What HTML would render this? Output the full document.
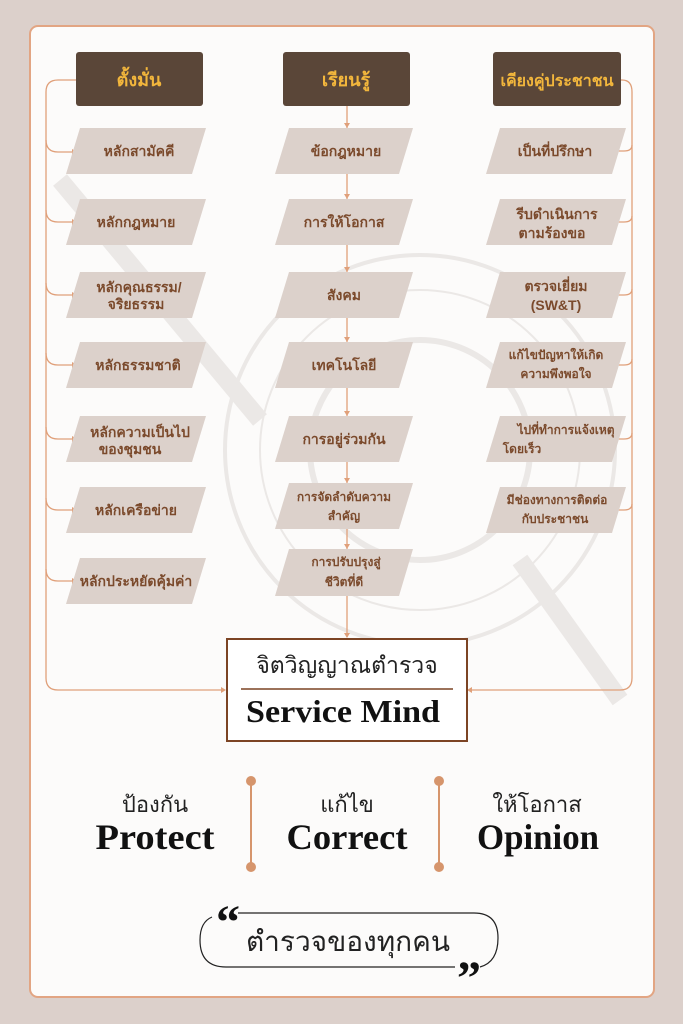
<!DOCTYPE html>
<html><head><meta charset="utf-8"><style>
body{margin:0;width:683px;height:1024px;background:#dcd0cb;overflow:hidden}
svg{display:block}
.t{font-family:"Liberation Sans","DejaVu Sans",sans-serif;font-size:14px;fill:#7b4a2c;text-anchor:middle;font-weight:bold}
.h{font-family:"Liberation Sans","DejaVu Sans",sans-serif;font-size:18px;fill:#f2b63c;text-anchor:middle;font-weight:bold}
.s{font-family:"Liberation Serif",serif;font-weight:bold;fill:#111;text-anchor:middle}
.th{font-family:"Liberation Sans","DejaVu Sans",sans-serif;fill:#222;text-anchor:middle}
</style></head><body>
<svg width="683" height="1024" viewBox="0 0 683 1024">
<rect x="30" y="26" width="624" height="971" rx="8" fill="#fcfbfa" stroke="#e2a583" stroke-width="2"/>
<!-- faint emblem -->
<g fill="none" stroke="#ebe8e6" stroke-width="4">
<circle cx="420" cy="450" r="195"/>
<circle cx="420" cy="450" r="160" stroke-width="2"/>
<circle cx="420" cy="450" r="110" stroke-width="6"/>
<path d="M60 180 L260 420" stroke-width="18"/>
<path d="M520 560 L620 700" stroke-width="18"/>
</g>
<!-- headers -->
<g fill="#5a4638">
<rect x="76" y="52" width="127" height="54" rx="3"/>
<rect x="283" y="52" width="127" height="54" rx="3"/>
<rect x="493" y="52" width="128" height="54" rx="3"/>
</g>
<text class="h" x="139" y="86">ตั้งมั่น</text>
<text class="h" x="346" y="86">เรียนรู้</text>
<text class="h" x="557" y="86" style="font-size:16px">เคียงคู่ประชาชน</text>
<!-- connectors -->
<g fill="none" stroke="#e0a07a" stroke-width="1.3">
<path d="M76 80 H58 Q46 80 46 92 V678 Q46 690 58 690 H222"/>
<path d="M46 140 Q46 152 58 152 H72"/>
<path d="M46 210 Q46 222 58 222 H72"/>
<path d="M46 283 Q46 295 58 295 H72"/>
<path d="M46 353 Q46 365 58 365 H72"/>
<path d="M46 427 Q46 439 58 439 H72"/>
<path d="M46 498 Q46 510 58 510 H72"/>
<path d="M46 569 Q46 581 58 581 H72"/>
<path d="M621 80 H622 Q632 80 632 92 V678 Q632 690 620 690 H470"/>
<path d="M632 145 Q632 151 624 151 H618"/>
<path d="M632 216 Q632 222 624 222 H614"/>
<path d="M632 289 Q632 295 624 295 H614"/>
<path d="M632 359 Q632 365 624 365 H614"/>
<path d="M632 433 Q632 439 624 439 H614"/>
<path d="M632 504 Q632 510 624 510 H614"/>
<path d="M347 106 V637"/>
</g>
<g fill="#e0a07a">
<path d="M72 149 l5 3 l-5 3z"/><path d="M72 219 l5 3 l-5 3z"/><path d="M72 292 l5 3 l-5 3z"/>
<path d="M72 362 l5 3 l-5 3z"/><path d="M72 436 l5 3 l-5 3z"/><path d="M72 507 l5 3 l-5 3z"/>
<path d="M72 578 l5 3 l-5 3z"/><path d="M221 687 l5 3 l-5 3z"/><path d="M472 687 l-5 3 l5 3z"/>
<path d="M344 123 l3 5 l3 -5z"/><path d="M344 194 l3 5 l3 -5z"/><path d="M344 267 l3 5 l3 -5z"/>
<path d="M344 337 l3 5 l3 -5z"/><path d="M344 411 l3 5 l3 -5z"/><path d="M344 478 l3 5 l3 -5z"/>
<path d="M344 544 l3 5 l3 -5z"/><path d="M344 633 l3 5 l3 -5z"/>
</g>
<!-- parallelograms -->
<g fill="#dcd1cb">
<path d="M80 128 H206 L192 174 H66Z"/><path d="M80 199 H206 L192 245 H66Z"/><path d="M80 272 H206 L192 318 H66Z"/>
<path d="M80 342 H206 L192 388 H66Z"/><path d="M80 416 H206 L192 462 H66Z"/><path d="M80 487 H206 L192 533 H66Z"/>
<path d="M80 558 H206 L192 604 H66Z"/>
<path d="M289 128 H413 L399 174 H275Z"/><path d="M289 199 H413 L399 245 H275Z"/><path d="M289 272 H413 L399 318 H275Z"/>
<path d="M289 342 H413 L399 388 H275Z"/><path d="M289 416 H413 L399 462 H275Z"/><path d="M289 483 H413 L399 529 H275Z"/>
<path d="M289 549 H413 L399 596 H275Z"/>
<path d="M500 128 H626 L612 174 H486Z"/><path d="M500 199 H626 L612 245 H486Z"/><path d="M500 272 H626 L612 318 H486Z"/>
<path d="M500 342 H626 L612 388 H486Z"/><path d="M500 416 H626 L612 462 H486Z"/><path d="M500 487 H626 L612 533 H486Z"/>
</g>
<text class="t" x="139" y="156">หลักสามัคคี</text>
<text class="t" x="136" y="227">หลักกฎหมาย</text>
<text class="t" x="139" y="292">หลักคุณธรรม/</text><text class="t" x="136" y="309">จริยธรรม</text>
<text class="t" x="138" y="370">หลักธรรมชาติ</text>
<text class="t" x="140" y="437">หลักความเป็นไป</text><text class="t" x="130" y="454">ของชุมชน</text>
<text class="t" x="136" y="515">หลักเครือข่าย</text>
<text class="t" x="136" y="586">หลักประหยัดคุ้มค่า</text>
<text class="t" x="346" y="156">ข้อกฎหมาย</text>
<text class="t" x="344" y="227">การให้โอกาส</text>
<text class="t" x="344" y="300">สังคม</text>
<text class="t" x="344" y="370">เทคโนโลยี</text>
<text class="t" x="344" y="444">การอยู่ร่วมกัน</text>
<text class="t" x="344" y="501" style="font-size:12px">การจัดลำดับความ</text><text class="t" x="344" y="520" style="font-size:12px">สำคัญ</text>
<text class="t" x="346" y="566" style="font-size:12px">การปรับปรุงสู่</text><text class="t" x="344" y="586" style="font-size:12px">ชีวิตที่ดี</text>
<text class="t" x="555" y="156">เป็นที่ปรึกษา</text>
<text class="t" x="557" y="219">รีบดำเนินการ</text><text class="t" x="552" y="238">ตามร้องขอ</text>
<text class="t" x="556" y="291">ตรวจเยี่ยม</text><text class="t" x="556" y="310">(SW&amp;T)</text>
<text class="t" x="556" y="359" style="font-size:12px">แก้ไขปัญหาให้เกิด</text><text class="t" x="556" y="378" style="font-size:12px">ความพึงพอใจ</text>
<text class="t" x="566" y="434" style="font-size:12px">ไปที่ทำการแจ้งเหตุ</text><text class="t" x="522" y="453" style="font-size:12px">โดยเร็ว</text>
<text class="t" x="557" y="504" style="font-size:12px">มีช่องทางการติดต่อ</text><text class="t" x="555" y="523" style="font-size:12px">กับประชาชน</text>
<!-- center box -->
<rect x="227" y="639" width="240" height="102" fill="#fff" stroke="#7c4424" stroke-width="2"/>
<text class="th" x="347" y="673" style="font-size:23px">จิตวิญญาณตำรวจ</text>
<line x1="241" y1="689" x2="453" y2="689" stroke="#7c4424" stroke-width="1.5"/>
<text class="s" x="343" y="722" style="font-size:32px" textLength="194" lengthAdjust="spacingAndGlyphs">Service Mind</text>
<!-- bottom trio -->
<g stroke="#d6956c" stroke-width="2" fill="#d6956c">
<line x1="251" y1="781" x2="251" y2="867"/><circle cx="251" cy="781" r="4"/><circle cx="251" cy="867" r="4"/>
<line x1="439" y1="781" x2="439" y2="867"/><circle cx="439" cy="781" r="4"/><circle cx="439" cy="867" r="4"/>
</g>
<text class="th" x="155" y="812" style="font-size:22px">ป้องกัน</text>
<text class="th" x="347" y="812" style="font-size:22px">แก้ไข</text>
<text class="th" x="537" y="812" style="font-size:22px">ให้โอกาส</text>
<text class="s" x="155" y="849" style="font-size:36px" textLength="119" lengthAdjust="spacingAndGlyphs">Protect</text>
<text class="s" x="347" y="849" style="font-size:36px" textLength="121" lengthAdjust="spacingAndGlyphs">Correct</text>
<text class="s" x="538" y="849" style="font-size:36px" textLength="122" lengthAdjust="spacingAndGlyphs">Opinion</text>
<!-- quote -->
<path d="M238 913 H474 Q498 913 498 938 Q498 962 480 967 M455 967 H226 Q200 967 200 940 Q200 922 212 917" fill="none" stroke="#222" stroke-width="1.2"/>
<text x="228" y="938" style="font-family:'Liberation Serif',serif;font-weight:bold;font-size:48px;fill:#111" text-anchor="middle">“</text>
<text x="469" y="994" style="font-family:'Liberation Serif',serif;font-weight:bold;font-size:48px;fill:#111" text-anchor="middle">”</text>
<text class="th" x="348" y="951" style="font-size:28px">ตำรวจของทุกคน</text>
</svg>
</body></html>
